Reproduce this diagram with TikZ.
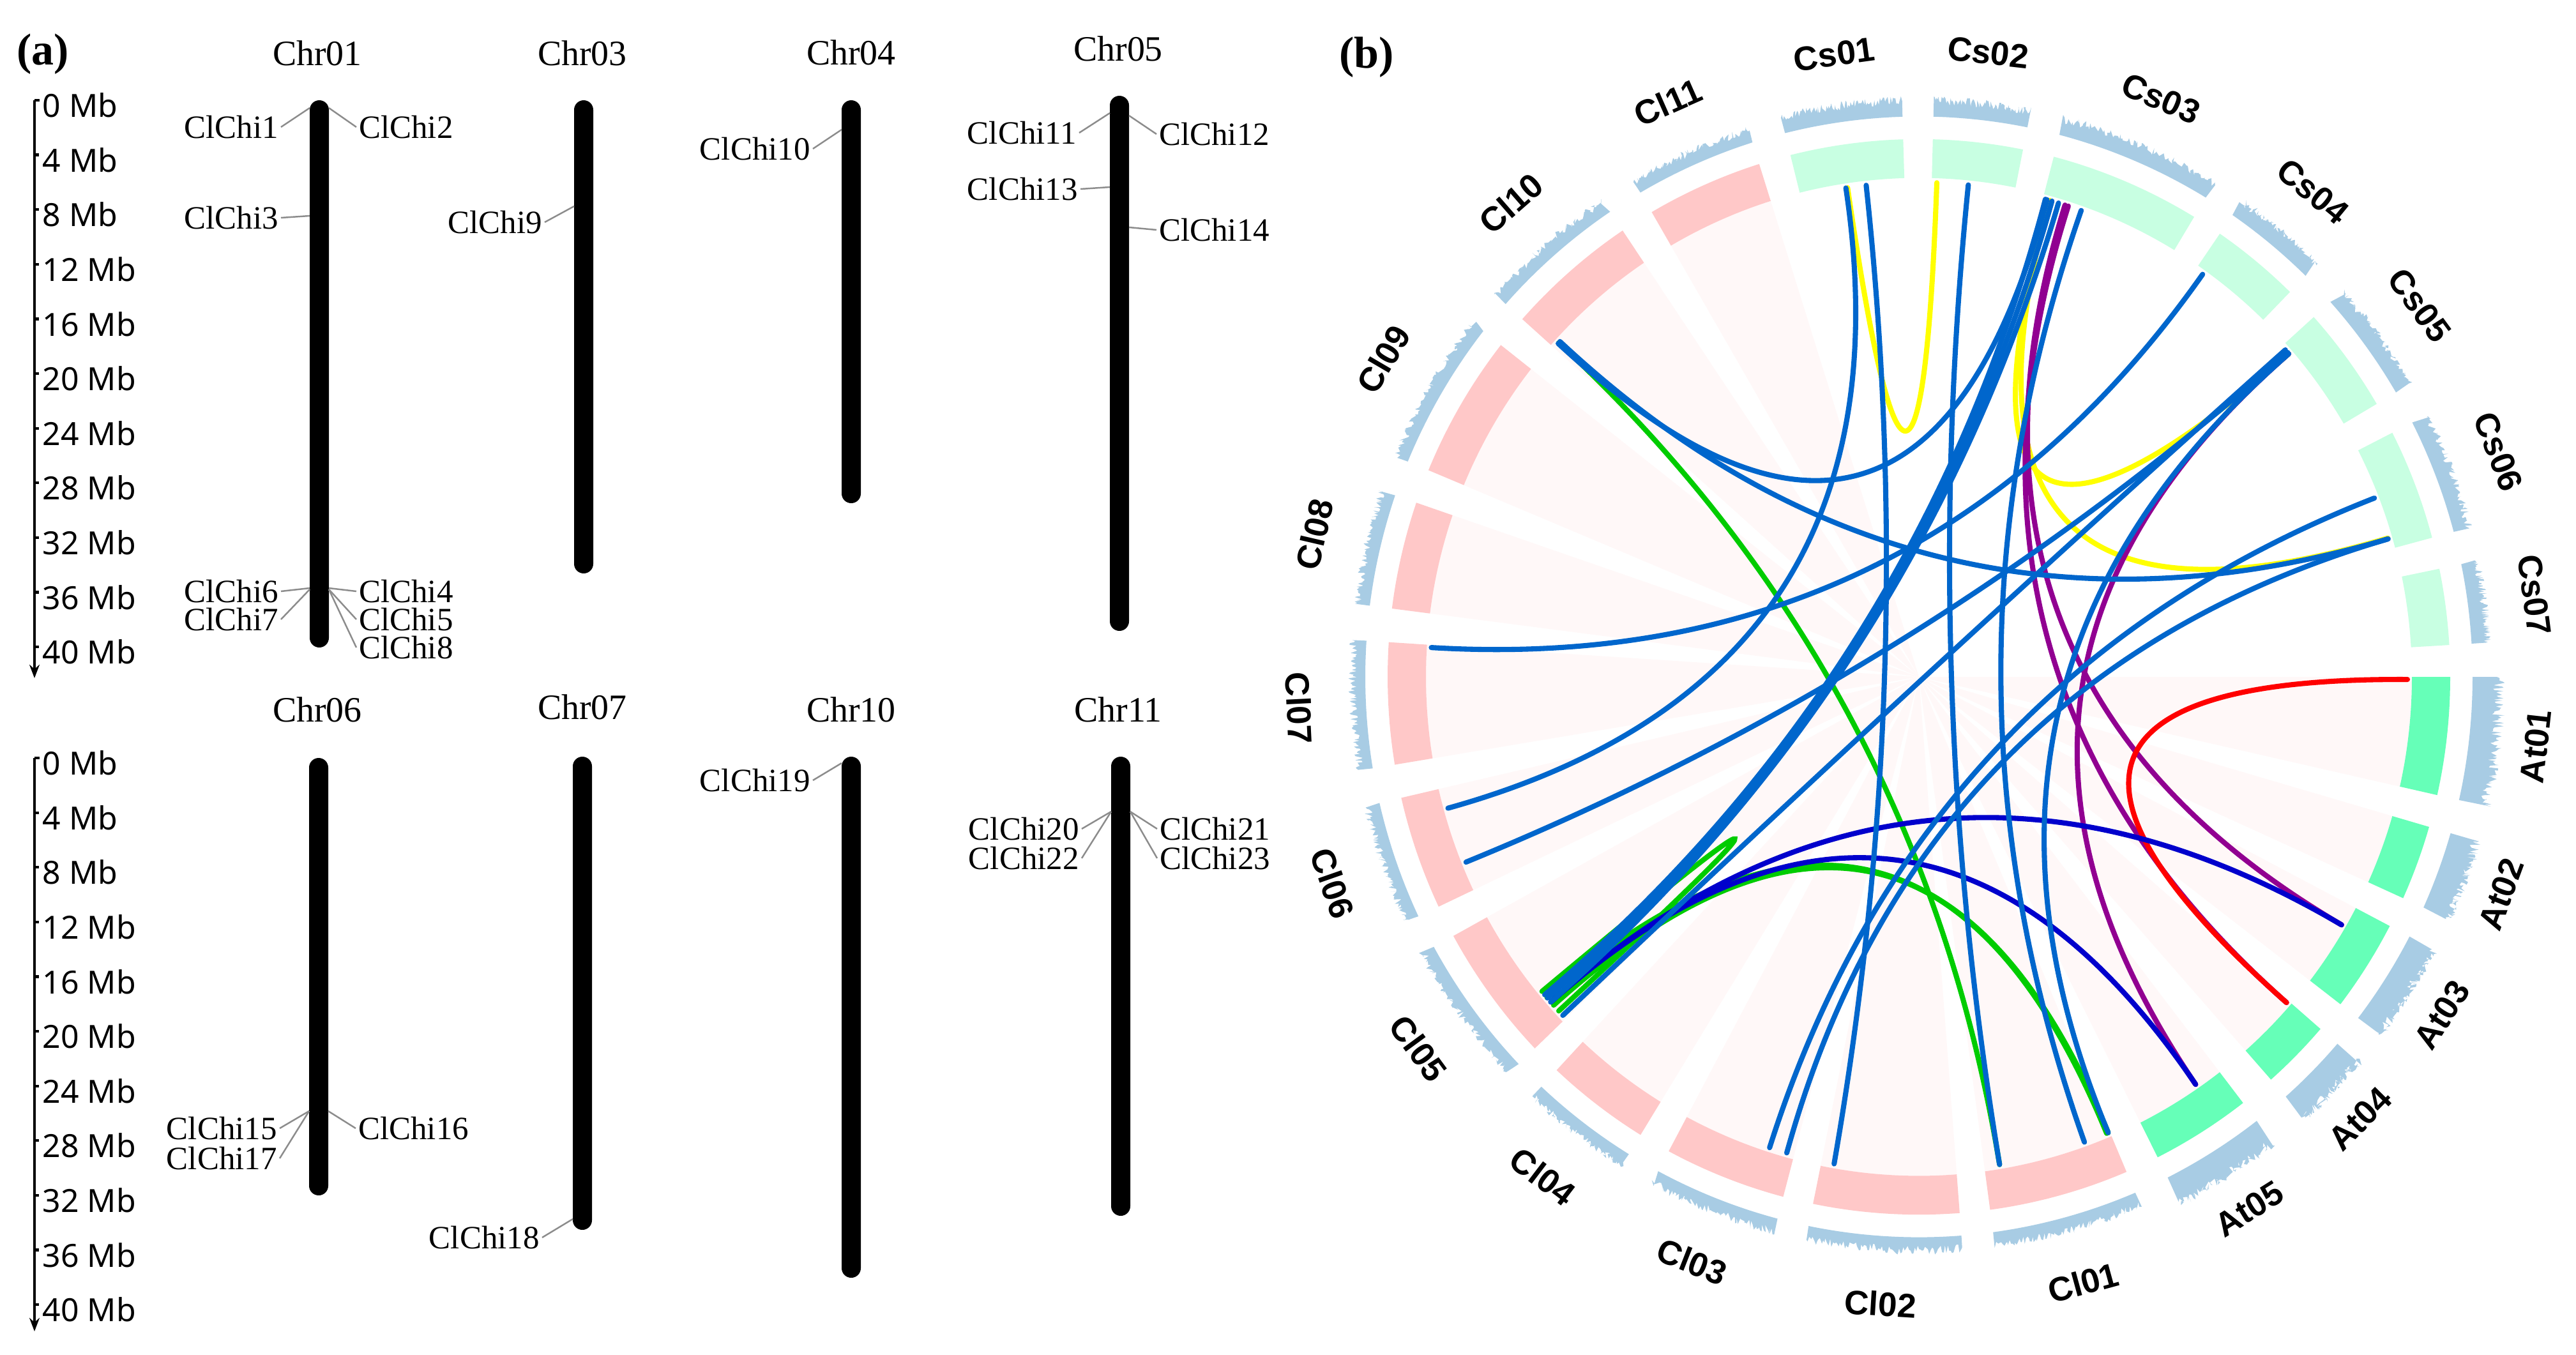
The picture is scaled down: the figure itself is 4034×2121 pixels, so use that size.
\documentclass[tikz,border=0pt]{standalone}
\usepackage{fontspec}
\setmainfont{Liberation Serif}
\setsansfont{Liberation Sans}
\newfontfamily\mbfont{Noto Sans}
\usetikzlibrary{arrows.meta}

\definecolor{pinkband}{RGB}{255,200,200}
\definecolor{csband}{RGB}{200,255,226}
\definecolor{atband}{RGB}{102,255,184}
\definecolor{histc}{RGB}{168,204,228}
\definecolor{bgpink}{RGB}{255,248,248}
\definecolor{lblue}{RGB}{0,102,204}
\definecolor{dblue}{RGB}{0,0,204}
\definecolor{lpurple}{RGB}{145,0,145}
\definecolor{lyellow}{RGB}{255,255,0}
\definecolor{lred}{RGB}{255,0,0}
\definecolor{lgreen}{RGB}{0,204,0}
\definecolor{connc}{RGB}{140,140,140}

% sector: start(larger angle), end(smaller angle), inner r, outer r, style
\newcommand\sect[5]{\fill[#5] plot[domain=#2:#1,samples=40] (\x:#4) -- plot[domain=#2:#1,samples=40] ({#1+#2-\x}:#3) -- cycle;}
% histogram: start, end, base height, amplitude
\newcommand\hist[4]{\fill[histc] plot[domain=#2:#1,samples=110] (\x:{867+#3+#4*rnd}) -- plot[domain=#2:#1,samples=30] ({#1+#2-\x}:867) -- cycle;}
% chromosome label
\newcommand\chrlab[2]{\pgfmathsetmacro\rot{(#1>0)?(#1-90):(#1+90)}\node[clab,rotate=\rot] at (#1:972) {#2};}
% link: style, angle A, angle B
\newcommand\lnk[3]{\draw[link,#1] (#2:765) .. controls (#2:255) and (#3:255) .. (#3:765);}

\tikzset{
  glab/.style={font=\fontsize{14.5}{15}\selectfont, inner sep=1pt},
  chrl/.style={font=\fontsize{15.9}{16}\selectfont, inner sep=0pt},
  mbl/.style={font=\mbfont\fontsize{14.2}{15}\selectfont, anchor=west, inner sep=0pt},
  clab/.style={font=\sffamily\bfseries\fontsize{15.1}{16}\selectfont, inner sep=0pt},
  panel/.style={font=\bfseries\fontsize{19.9}{20}\selectfont, inner sep=0pt},
  conn/.style={draw=connc, line width=0.7pt},
  axisl/.style={line width=1.2pt},
  chrbar/.style={fill=black, rounded corners=0.15cm},
  link/.style={line width=2.3pt, line cap=round}
}

\begin{document}
\begin{tikzpicture}[x=0.01cm, y=-0.01cm]
\useasboundingbox (0,0) rectangle (4034,2121);
\fill[white] (0,0) rectangle (4034,2121);

%================ (a) =================
\node[panel] (pa) at (67,85) {(a)};

% scale axis 1
\draw[axisl] (62,157) -- (54,157);
\draw[axisl,-{Stealth[length=6pt,width=4.5pt]}] (54,157) -- (54,1062);
\foreach \k in {1,...,10} \draw[axisl] (54,{157+85.6*\k}) -- (61,{157+85.6*\k});
\foreach \k in {0,...,10} \node[mbl] at (66,{165+85.6*\k}) {\pgfmathparse{int(4*\k)}\pgfmathresult{} Mb};
% scale axis 2
\draw[axisl] (62,1187) -- (54,1187);
\draw[axisl,-{Stealth[length=6pt,width=4.5pt]}] (54,1187) -- (54,2085);
\foreach \k in {1,...,10} \draw[axisl] (54,{1187+85.6*\k}) -- (61,{1187+85.6*\k});
\foreach \k in {0,...,10} \node[mbl] at (66,{1195+85.6*\k}) {\pgfmathparse{int(4*\k)}\pgfmathresult{} Mb};

% chromosome titles
\node[chrl] (t01) at (497,83) {Chr01};
\node[chrl] (t03) at (912,83) {Chr03};
\node[chrl] (t04) at (1333,82) {Chr04};
\node[chrl] (t05) at (1751,76) {Chr05};
\node[chrl] (t06) at (497,1111) {Chr06};
\node[chrl] (t07) at (912,1107) {Chr07};
\node[chrl] (t10) at (1333,1111) {Chr10};
\node[chrl] (t11) at (1751,1111) {Chr11};

% chromosome bars
\fill[chrbar] (485,157) rectangle (515,1014);
\fill[chrbar] (899,157) rectangle (929,898);
\fill[chrbar] (1318,157) rectangle (1348,788);
\fill[chrbar] (1738,150) rectangle (1768,988);
\fill[chrbar] (484,1187) rectangle (514,1872);
\fill[chrbar] (897,1185) rectangle (927,1926);
\fill[chrbar] (1318,1185) rectangle (1348,2001);
\fill[chrbar] (1740,1185) rectangle (1770,1904);

% gene attachment points
\coordinate (p1) at (485,169);  \coordinate (p2) at (515,169);
\coordinate (p3) at (485,338);
\coordinate (p6) at (485,921);  \coordinate (p7) at (485,923);
\coordinate (p4) at (515,921);  \coordinate (p5) at (515,923);
\coordinate (p9) at (899,323);
\coordinate (p10) at (1318,203);
\coordinate (p11) at (1738,177); \coordinate (p12) at (1768,181);
\coordinate (p13) at (1738,293); \coordinate (p14) at (1768,356);
\coordinate (p15) at (484,1740); \coordinate (p16) at (514,1740);
\coordinate (p18) at (897,1909);
\coordinate (p19) at (1318,1195);
\coordinate (p20) at (1740,1271); \coordinate (p21) at (1770,1271);

% gene labels
\node[glab,anchor=east] (g1) at (440,199) {ClChi1};
\node[glab,anchor=west] (g2) at (558,199) {ClChi2};
\node[glab,anchor=east] (g3) at (440,341) {ClChi3};
\node[glab,anchor=east] (g6) at (440,926) {ClChi6};
\node[glab,anchor=east] (g7) at (440,970) {ClChi7};
\node[glab,anchor=west] (g4) at (558,926) {ClChi4};
\node[glab,anchor=west] (g5) at (558,970) {ClChi5};
\node[glab,anchor=west] (g8) at (558,1014) {ClChi8};
\node[glab,anchor=east] (g9) at (853,348) {ClChi9};
\node[glab,anchor=east] (g10) at (1273,233) {ClChi10};
\node[glab,anchor=east] (g11) at (1690,208) {ClChi11};
\node[glab,anchor=west] (g12) at (1811,210) {ClChi12};
\node[glab,anchor=east] (g13) at (1692,296) {ClChi13};
\node[glab,anchor=west] (g14) at (1811,360) {ClChi14};
\node[glab,anchor=east] (g15) at (438,1767) {ClChi15};
\node[glab,anchor=east] (g17) at (438,1814) {ClChi17};
\node[glab,anchor=west] (g16) at (557,1767) {ClChi16};
\node[glab,anchor=east] (g18) at (849,1938) {ClChi18};
\node[glab,anchor=east] (g19) at (1273,1222) {ClChi19};
\node[glab,anchor=east] (g20) at (1694,1298) {ClChi20};
\node[glab,anchor=east] (g22) at (1694,1344) {ClChi22};
\node[glab,anchor=west] (g21) at (1812,1298) {ClChi21};
\node[glab,anchor=west] (g23) at (1812,1344) {ClChi23};

% connectors
\draw[conn] (g1.east) -- (p1);  \draw[conn] (p2) -- (g2.west);
\draw[conn] (g3.east) -- (p3);
\draw[conn] (g6.east) -- (p6);  \draw[conn] (g7.east) -- (p7);
\draw[conn] (p4) -- (g4.west);  \draw[conn] (p5) -- (g5.west);  \draw[conn] (p5) -- (g8.west);
\draw[conn] (g9.east) -- (p9);
\draw[conn] (g10.east) -- (p10);
\draw[conn] (g11.east) -- (p11); \draw[conn] (p12) -- (g12.west);
\draw[conn] (g13.east) -- (p13); \draw[conn] (p14) -- (g14.west);
\draw[conn] (g15.east) -- (p15); \draw[conn] (g17.east) -- (p15);
\draw[conn] (p16) -- (g16.west);
\draw[conn] (g18.east) -- (p18);
\draw[conn] (g19.east) -- (p19);
\draw[conn] (g20.east) -- (p20); \draw[conn] (g22.east) -- (p20);
\draw[conn] (p21) -- (g21.west); \draw[conn] (p21) -- (g23.west);

%================ (b) =================
\node[panel] (pb) at (2140,90) {(b)};

\begin{scope}[shift={(3005,1060)}, x=0.01cm, y=0.01012cm]
\pgfmathsetseed{7}
% faint background ribbons
\foreach \s/\e in {-67.0/-82.3,-85.6/-101.5,-104.8/-118.1,-121.6/-133.0,-136.3/-151.2,-154.7/-167.0,-170.6/-183.7,172.7/161.1,157.4/141.9,138.3/123.9,120.2/107.5,0.0/-12.7,-16.2/-24.3,-27.6/-37.5,-40.9/-48.5,-52.4/-63.3}
  {\sect{\s}{\e}{0}{772}{bgpink}}
% Cs bands
\foreach \s/\e in {104.0/91.7,88.5/78.7,75.3/58.8,55.5/45.7,42.0/30.5,27.0/15.0,11.6/3.4}
  {\sect{\s}{\e}{772}{832}{csband}}
% At bands
\foreach \s/\e in {0.0/-12.7,-16.2/-24.3,-27.6/-37.5,-40.9/-48.5,-52.4/-63.3}
  {\sect{\s}{\e}{772}{832}{atband}}
% Cl bands
\foreach \s/\e in {-67.0/-82.3,-85.6/-101.5,-104.8/-118.1,-121.6/-133.0,-136.3/-151.2,-154.7/-167.0,-170.6/-183.7,172.7/161.1,157.4/141.9,138.3/123.9,120.2/107.5}
  {\sect{\s}{\e}{772}{832}{pinkband}}
% histograms
\foreach \s/\e in {104.0/91.7,88.5/78.7,75.3/58.8,55.5/45.7,42.0/30.5,27.0/15.0,11.6/3.4}
  {\hist{\s}{\e}{18}{14}}
\foreach \s/\e in {0.0/-12.7,-16.2/-24.3,-27.6/-37.5,-40.9/-48.5,-52.4/-63.3}
  {\hist{\s}{\e}{32}{20}}
\foreach \s/\e in {-67.0/-82.3,-85.6/-101.5,-104.8/-118.1,-121.6/-133.0,-136.3/-151.2,-154.7/-167.0,-170.6/-183.7,172.7/161.1,157.4/141.9,138.3/123.9,120.2/107.5}
  {\hist{\s}{\e}{13}{14}}
% labels
\chrlab{97.85}{Cs01}
\chrlab{83.6}{Cs02}
\chrlab{67.05}{Cs03}
\chrlab{50.6}{Cs04}
\chrlab{36.25}{Cs05}
\chrlab{21.0}{Cs06}
\chrlab{7.5}{Cs07}
\chrlab{-6.35}{At01}
\chrlab{-20.25}{At02}
\chrlab{-32.55}{At03}
\chrlab{-44.7}{At04}
\chrlab{-57.85}{At05}
\chrlab{-74.65}{Cl01}
\chrlab{-93.55}{Cl02}
\chrlab{-111.45}{Cl03}
\chrlab{-127.3}{Cl04}
\chrlab{-143.75}{Cl05}
\chrlab{-160.85}{Cl06}
\chrlab{-177.15}{Cl07}
\chrlab{166.9}{Cl08}
\chrlab{149.65}{Cl09}
\chrlab{131.1}{Cl10}
\chrlab{113.85}{Cl11}

% links
\lnk{lyellow}{98.4}{87.9}
\lnk{lyellow}{74.5}{40.8}
\lnk{lyellow}{74.5}{16.3}
\lnk{lpurple}{72.6}{-30.1}
\lnk{lpurple}{72.2}{-41.2}
\lnk{lpurple}{40.8}{-55.5}
\lnk{lred}{-0.3}{-41.2}
\lnk{lgreen}{137.5}{-80.5}
\lnk{lgreen}{-138.4}{-67.2}
\lnk{lgreen}{-139.6}{-67.4}
\lnk{lgreen}{-137.5}{-140.5}
\lnk{dblue}{-138.9}{-30.1}
\lnk{dblue}{-138.9}{-55.5}
\lnk{lblue}{137.6}{74.8}
\lnk{lblue}{137.3}{16.2}
\lnk{lblue}{176.6}{54.5}
\lnk{lblue}{-164.6}{98.6}
\lnk{lblue}{-158.0}{41.0}
\lnk{lblue}{-140.0}{75.0}
\lnk{lblue}{-139.5}{74.2}
\lnk{lblue}{-138.9}{73.4}
\lnk{lblue}{-136.8}{41.4}
\lnk{lblue}{-107.8}{21.2}
\lnk{lblue}{-105.7}{16.2}
\lnk{lblue}{-100.0}{96.2}
\lnk{lblue}{-80.5}{84.2}
\lnk{lblue}{-70.2}{70.6}
\lnk{lblue}{-67.2}{40.8}
\end{scope}
\end{tikzpicture}
\end{document}
